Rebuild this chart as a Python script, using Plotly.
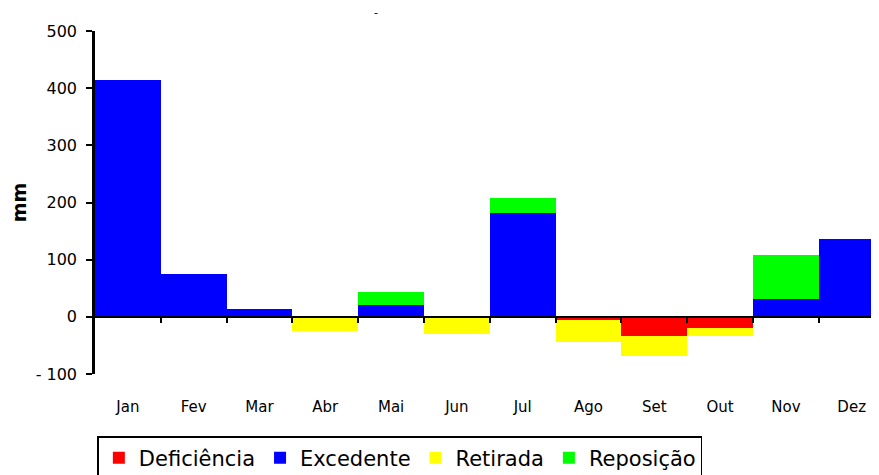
import plotly.graph_objects as go

months = ["Jan", "Fev", "Mar", "Abr", "Mai", "Jun", "Jul", "Ago", "Set", "Out", "Nov", "Dez"]
deficiencia = [0, 0, 0, 0, 0, 0, 0, -6, -34, -20, 0, 0]
excedente = [415, 75, 14, 0, 21, 0, 181, 0, 0, 0, 31, 136]
retirada = [0, 0, 0, -24, 0, -30, 0, -38, -34, -14, 0, 0]
reposicao = [0, 0, 0, 0, 23, 0, 27, 0, 0, 0, 77, 0]
y_ticks = [-100, 0, 100, 200, 300, 400, 500]
y_ticktext = ["- 100", "0", "100", "200", "300", "400", "500"]

FONT = "DejaVu Sans, Arial, sans-serif"
xs = list(range(len(months)))
fig = go.Figure()
series = [
    ("Deficiência", deficiencia, "#FF0000"),
    ("Excedente", excedente, "#0000FF"),
    ("Retirada", retirada, "#FFFF00"),
    ("Reposição", reposicao, "#00FF00"),
]
for name, vals, col in series:
    fig.add_trace(go.Bar(x=xs, y=vals, name=name, marker=dict(color=col, line=dict(width=0)),
                         width=1.0))

# invisible trace on xaxis2 to draw the zero-line ticks
fig.add_trace(go.Scatter(x=[0], y=[0], xaxis="x2", yaxis="y", mode="markers",
                         marker=dict(opacity=0), showlegend=False, hoverinfo="skip"))

xr = [-0.5, 11.415]
fig.update_layout(
    width=879, height=475,
    margin=dict(l=87, r=8, t=23, b=109, autoexpand=False),
    paper_bgcolor="white", plot_bgcolor="white",
    barmode="relative", bargap=0,
    font=dict(family=FONT, color="black"),
    title=dict(text="-", x=0.4187, xanchor="center", y=1.0, yanchor="top",
               font=dict(size=11, color="black")),
    xaxis=dict(range=xr, tickmode="array", tickvals=xs, ticktext=months,
               showline=False, ticks="", showgrid=False, zeroline=False, automargin=False,
               ticklabelstandoff=22, tickfont=dict(size=15)),
    xaxis2=dict(range=xr, overlaying="x", anchor="free", position=100 / 600,
                showline=True, linecolor="black", linewidth=1.5,
                tickmode="array", tickvals=[i + 0.5 for i in range(11)],
                ticks="outside", ticklen=5, tickwidth=2, tickcolor="black",
                showticklabels=False, showgrid=False, zeroline=False, automargin=False),
    yaxis=dict(range=[-100, 500], tickmode="array", tickvals=y_ticks, ticktext=y_ticktext,
               showline=True, linecolor="black", linewidth=2.5, automargin=False,
               ticks="outside", ticklen=6, tickwidth=2, tickcolor="black",
               showgrid=False, zeroline=False, tickfont=dict(size=16),
               ticklabelstandoff=6,
               title=dict(text="<b>mm</b>", font=dict(size=19), standoff=46)),
    legend=dict(orientation="h", x=0.003, xanchor="left", y=-0.181, yanchor="top",
                bordercolor="black", borderwidth=1.5, font=dict(size=21),
                itemwidth=30, tracegroupgap=0, traceorder="normal"),
)
fig.write_html("out.html")
